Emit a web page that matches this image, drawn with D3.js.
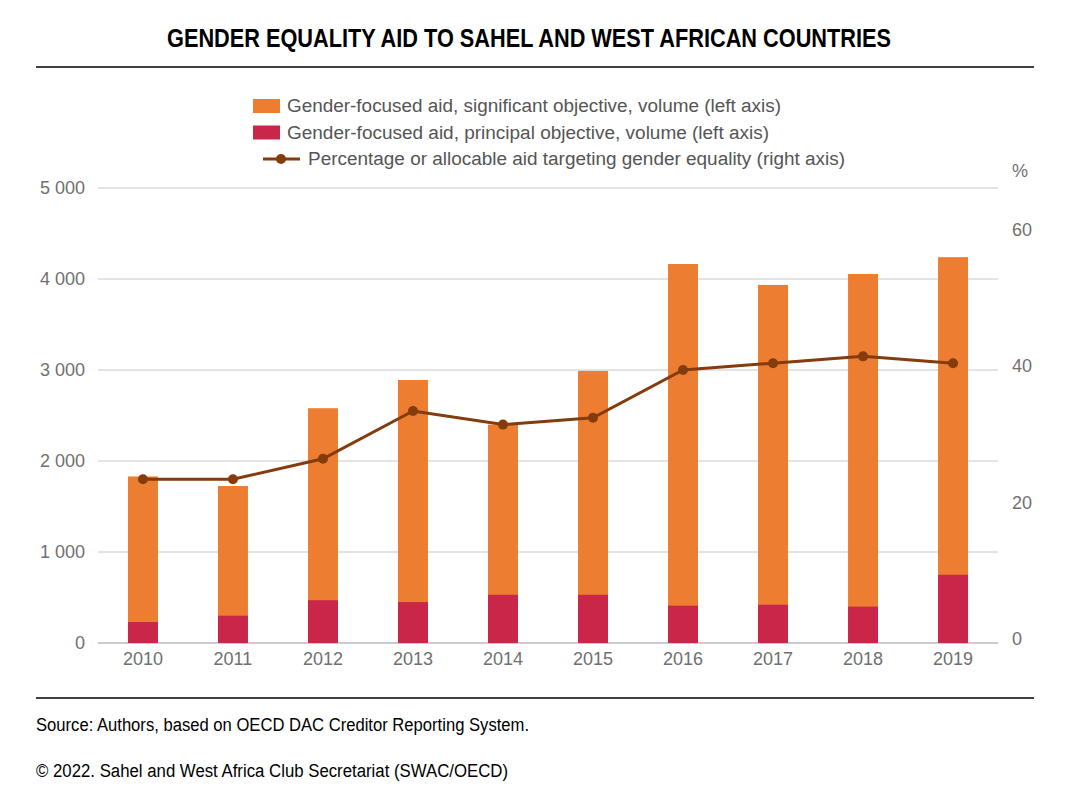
<!DOCTYPE html>
<html><head><meta charset="utf-8">
<script src="https://cdn.jsdelivr.net/npm/d3@7"></script>
<style>body{margin:0;background:#fff}text{font-family:"Liberation Sans",Arial,sans-serif}</style>
</head><body><svg id="chart" width="1072" height="798"></svg>
<script>
// chart data
const years = ["2010","2011","2012","2013","2014","2015","2016","2017","2018","2019"];
const totalAid = [1830, 1725, 2580, 2890, 2400, 2990, 4165, 3935, 4055, 4240];
const principalAid = [230, 300, 470, 450, 530, 530, 410, 420, 400, 750];
const pctGender = [24, 24, 27, 34, 32, 33, 40, 41, 42, 41];
const leftTicks = [0, 1000, 2000, 3000, 4000, 5000];
const rightTicks = [0, 20, 40, 60];

const svg = d3.select("#chart");
const orange = "#ED7D31", red = "#C9264A", brown = "#843C0C";

// title and rules
svg.append("text").attr("x", 167).attr("y", 47)
    .attr("textLength", 724).attr("lengthAdjust", "spacingAndGlyphs")
    .style("font-weight", "bold").style("font-size", "25px").text("GENDER EQUALITY AID TO SAHEL AND WEST AFRICAN COUNTRIES");
[67, 698].forEach(y => svg.append("line").attr("x1", 36).attr("x2", 1034).attr("y1", y).attr("y2", y).attr("stroke", "#000").attr("stroke-width", 1.5));

let x = d3.scaleBand().domain(years).range([98, 998]).paddingInner(0.667).paddingOuter(0.333);
let yL = d3.scaleLinear().domain([0, 5000]).range([643, 188]);
let yR = d3.scaleLinear().domain([0, 60]).range([643, 233.5]);

// gridlines + left labels
leftTicks.forEach(t => {
    if (t > 0) svg.append("line").attr("x1", 98).attr("x2", 998).attr("y1", yL(t)).attr("y2", yL(t)).attr("stroke", "#c8c8c8");
    svg.append("text").attr("x", 85).attr("y", yL(t) + 6).attr("text-anchor", "end").attr("fill", "#707070").style("font-size", "18px")
        .text(t === 0 ? "0" : d3.format(",")(t).replace(",", " "));
});
rightTicks.forEach(t => {
    svg.append("text").attr("x", 1012).attr("y", yR(t) + 2).attr("fill", "#707070").style("font-size", "18px").text(t);
});
svg.append("text").attr("x", 1012).attr("y", 177).attr("fill", "#707070").style("font-size", "18px").text("%");
svg.append("line").attr("x1", 98).attr("x2", 998).attr("y1", 643).attr("y2", 643).attr("stroke", "#999");

// bars
svg.selectAll(".tot").data(years).join("rect")
    .attr("x", d => x(d)).attr("width", x.bandwidth())
    .attr("y", (d, i) => yL(totalAid[i])).attr("height", (d, i) => yL(0) - yL(totalAid[i])).attr("fill", orange);
svg.selectAll(".pri").data(years).join("rect")
    .attr("x", d => x(d)).attr("width", x.bandwidth())
    .attr("y", (d, i) => yL(principalAid[i])).attr("height", (d, i) => yL(0) - yL(principalAid[i])).attr("fill", red);

// x labels
years.forEach(d => svg.append("text").attr("x", x(d) + x.bandwidth() / 2).attr("y", 665).attr("text-anchor", "middle")
    .attr("fill", "#707070").style("font-size", "18px").text(d));

// line
let line = d3.line().x((d, i) => x(years[i]) + x.bandwidth() / 2).y(d => yR(d));
svg.append("path").datum(pctGender).attr("d", line).attr("fill", "none").attr("stroke", brown).attr("stroke-width", 3);
svg.selectAll(".dot").data(pctGender).join("circle")
    .attr("cx", (d, i) => x(years[i]) + x.bandwidth() / 2).attr("cy", d => yR(d)).attr("r", 5).attr("fill", brown);

// legend
const legend = [
    ["Gender-focused aid, significant objective, volume (left axis)", orange, "bar", 494],
    ["Gender-focused aid, principal objective, volume (left axis)", red, "bar", 482],
    ["Percentage or allocable aid targeting gender equality (right axis)", brown, "line", 537]
];
legend.forEach((l, i) => {
    let ly = 106 + i * 26.5;
    let tx = 287;
    if (l[2] === "bar") {
        svg.append("rect").attr("x", 253).attr("y", ly - 7).attr("width", 27).attr("height", 14).attr("fill", l[1]);
    } else {
        svg.append("line").attr("x1", 263).attr("x2", 300).attr("y1", ly).attr("y2", ly).attr("stroke", l[1]).attr("stroke-width", 3);
        svg.append("circle").attr("cx", 281).attr("cy", ly).attr("r", 5).attr("fill", l[1]);
        tx = 308;
    }
    svg.append("text").attr("x", tx).attr("y", ly + 6).attr("fill", "#555").style("font-size", "18px")
        .attr("textLength", l[3]).attr("lengthAdjust", "spacingAndGlyphs").text(l[0]);
});

// footer
svg.append("text").attr("x", 36).attr("y", 731).attr("textLength", 493).attr("lengthAdjust", "spacingAndGlyphs")
    .style("font-size", "18px").text("Source: Authors, based on OECD DAC Creditor Reporting System.");
svg.append("text").attr("x", 36).attr("y", 777).attr("textLength", 472).attr("lengthAdjust", "spacingAndGlyphs")
    .style("font-size", "18px").text("© 2022. Sahel and West Africa Club Secretariat (SWAC/OECD)");
</script></body></html>
